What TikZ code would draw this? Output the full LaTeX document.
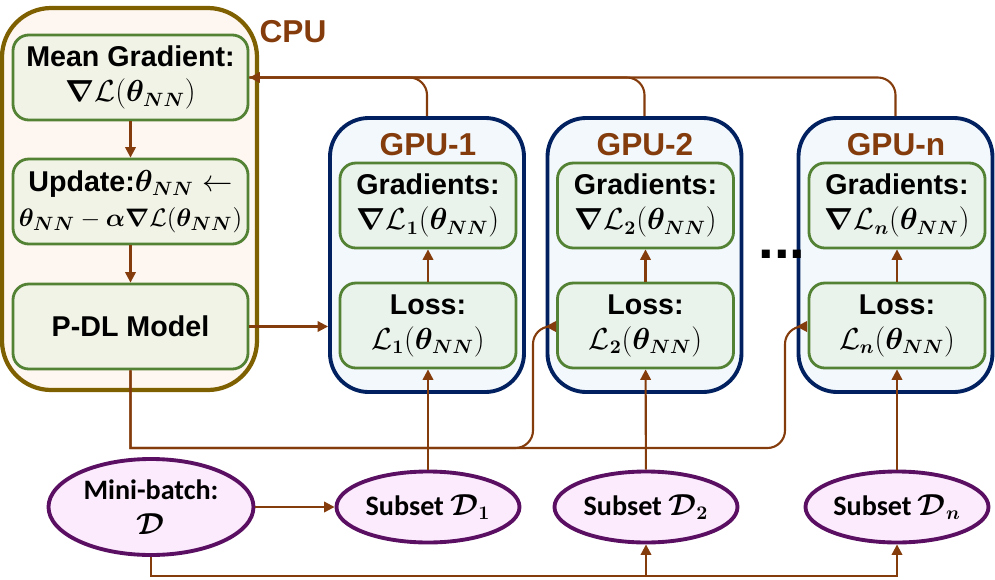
\documentclass[tikz,border=0pt]{standalone}
\usepackage{amsmath, amssymb, bm}
\usepackage{fontspec}
\setmainfont{Liberation Sans}
\newfontfamily\calfont{Carlito}
\usepackage{tikz}
\usetikzlibrary{positioning, shapes.geometric, arrows.meta}
\usepackage{xcolor}

\definecolor{brn}{HTML}{843C0C}
\definecolor{cpuline}{HTML}{7F6000}
\definecolor{cpufill}{HTML}{FEF6F0}
\definecolor{greenb}{HTML}{548235}
\definecolor{cpuin}{HTML}{F0F3E6}
\definecolor{gpuin}{HTML}{EAF3EB}
\definecolor{gpuline}{HTML}{002060}
\definecolor{gpufill}{HTML}{F2F8FC}
\definecolor{purp}{HTML}{5A0F62}
\definecolor{purpfill}{HTML}{FBEBFC}

\newcommand{\thNN}{\bm{\theta}_{\bm{NN}}}

\begin{document}
\begin{tikzpicture}[
    x=0.2mm, y=-0.2mm,
    box/.style={draw=greenb, line width=1.6pt, rounded corners=9pt, minimum height=17mm, align=center, font=\fontsize{16.3}{20}\selectfont\bfseries},
    cpubox/.style={box, fill=cpuin, minimum width=47mm},
    gpubox/.style={box, fill=gpuin, minimum width=35.2mm},
    cpu/.style={draw=cpuline, fill=cpufill, line width=2.4pt, rounded corners=28pt, minimum width=51mm, minimum height=76.4mm},
    gpu/.style={draw=gpuline, fill=gpufill, line width=2.2pt, rounded corners=22pt, minimum width=38.8mm, minimum height=54.8mm},
    data/.style={ellipse, draw=purp, fill=purpfill, line width=2.2pt, inner sep=0pt, minimum width=36.6mm, minimum height=14.2mm, align=center, font=\fontsize{16}{20}\selectfont\calfont\bfseries},
    lbl/.style={text=brn, font=\fontsize{18}{18}\selectfont\bfseries},
    arr/.style={draw=brn, line width=1.2pt, -{Triangle[length=6pt, width=6pt]}},
    ln/.style={draw=brn, line width=1.2pt}
]
  \useasboundingbox (0,0) rectangle (995,579);

  % --- CPU ---
  \node[cpu] (cpu) at (129.5,199) {};
  \node[lbl] (cpulbl) at (293,32) {CPU};
  \node[cpubox] (mean) at (130.5,77.5) {Mean Gradient:\\ $\bm{\nabla}\mathcal{L}(\thNN)$};
  \node[cpubox, inner xsep=1pt] (upd) at (130.5,201.5) {Update:$\thNN \leftarrow$\\ {\fontsize{15.2}{20}\selectfont$\thNN - \bm{\alpha}\bm{\nabla}\mathcal{L}(\thNN)$}};
  \node[cpubox] (pdl) at (130.5,326.5) {P-DL Model};

  % --- GPUs ---
  \node[gpu] (gpu1) at (427,255) {};
  \node[lbl] (gpu1lbl) at (428,145) {GPU-1};
  \node[gpubox] (grad1) at (428,205.5) {Gradients:\\ $\bm{\nabla}\mathcal{L}_{\bm 1}(\thNN)$};
  \node[gpubox] (loss1) at (428,325.5) {Loss:\\ $\mathcal{L}_{\bm 1}(\thNN)$};

  \node[gpu] (gpu2) at (644.5,255) {};
  \node[lbl] (gpu2lbl) at (645,145) {GPU-2};
  \node[gpubox] (grad2) at (645.5,205.5) {Gradients:\\ $\bm{\nabla}\mathcal{L}_{\bm 2}(\thNN)$};
  \node[gpubox] (loss2) at (645.5,325.5) {Loss:\\ $\mathcal{L}_{\bm 2}(\thNN)$};

  \node[gpu] (gpun) at (895.5,255) {};
  \node[lbl] (gpunlbl) at (896,145) {GPU-n};
  \node[gpubox] (gradn) at (897,205.5) {Gradients:\\ $\bm{\nabla}\mathcal{L}_{\bm n}(\thNN)$};
  \node[gpubox] (lossn) at (897,325.5) {Loss:\\ $\mathcal{L}_{\bm n}(\thNN)$};

  \node[font=\fontsize{32}{32}\selectfont\bfseries] (dots) at (782,254) {...};

  % --- DATA ---
  \node[data, minimum width=41mm, minimum height=19.2mm] (mb) at (151,507) {Mini-batch:\\ $\bm{\mathcal{D}}$};
  \node[data] (s1) at (428,507) {Subset $\bm{\mathcal{D}_1}$};
  \node[data] (s2) at (646,507) {Subset $\bm{\mathcal{D}_2}$};
  \node[data] (sn) at (897,507) {Subset $\bm{\mathcal{D}_n}$};

  \coordinate (rise2) at (533,448);
  \coordinate (risen) at (785,448);
  \coordinate (base) at (151,576);

  % --- DRAWING EDGES ---
  \draw[arr] (mean) -- (upd);
  \draw[arr] (upd) -- (pdl);
  \draw[arr] (pdl.east) -- (pdl.east -| gpu1.west);
  \draw[arr] (loss1) -- (grad1);
  \draw[arr] (loss2) -- (grad2);
  \draw[arr] (lossn) -- (gradn);

  % gradients back to the CPU
  \draw[ln, rounded corners=10pt] (gpu1.north) |- (mean.east);
  \draw[ln, rounded corners=10pt] (gpu2.north) |- (mean.east);
  \draw[arr, rounded corners=10pt] (gpun.north) |- (mean.east);

  % model copies to the other GPUs
  \draw[arr] (pdl.south) -- (pdl.south |- rise2) [rounded corners=10pt] -- (rise2) |- (gpu2.west |- pdl.east);
  \draw[arr] (pdl.south) -- (pdl.south |- risen) [rounded corners=10pt] -- (risen) |- (gpun.west |- pdl.east);

  % data split
  \draw[arr] (mb) -- (s1);
  \draw[arr] (s1) -- (loss1);
  \draw[arr] (s2) -- (loss2);
  \draw[arr] (sn) -- (lossn);
  \draw[arr] (mb.south) -- (base) -| (s2.south);
  \draw[arr] (base) -| (sn.south);
\end{tikzpicture}
\end{document}
